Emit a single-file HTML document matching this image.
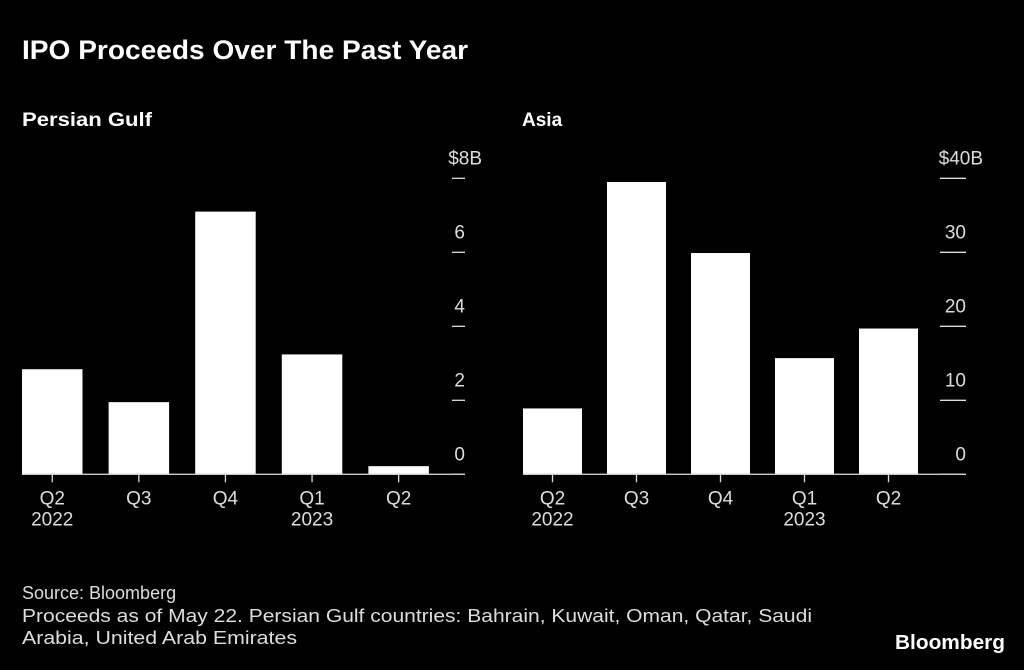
<!DOCTYPE html>
<html><head><meta charset="utf-8"><style>
body{margin:0;background:#000;width:1024px;height:670px;overflow:hidden;font-family:"Liberation Sans",sans-serif;color:#fff}
svg{position:absolute;left:0;top:0}
</style></head><body>
<svg width="1024" height="670">
<text x="22" y="59" font-size="27" font-weight="bold" fill="#fff" textLength="446" lengthAdjust="spacingAndGlyphs">IPO Proceeds Over The Past Year</text>
<text x="22" y="126" font-size="19" font-weight="bold" fill="#fff" textLength="130" lengthAdjust="spacingAndGlyphs">Persian Gulf</text>
<text x="522" y="126" font-size="19" font-weight="bold" fill="#fff">Asia</text>
<g id="left"></g>
<g id="right"></g>
<text x="22" y="599" font-size="18" fill="#ddd">Source: Bloomberg</text>
<text x="22" y="622" font-size="18" fill="#ddd" textLength="790" lengthAdjust="spacingAndGlyphs">Proceeds as of May 22. Persian Gulf countries: Bahrain, Kuwait, Oman, Qatar, Saudi</text>
<text x="22" y="644" font-size="18" fill="#ddd" textLength="275" lengthAdjust="spacingAndGlyphs">Arabia, United Arab Emirates</text>
<text x="1005" y="649" font-size="20" font-weight="bold" fill="#fff" text-anchor="end" textLength="110" lengthAdjust="spacingAndGlyphs">Bloomberg</text>
</svg>
<script>
const quarters=["Q2","Q3","Q4","Q1","Q2"];
const years=["2022","","","2023",""];
const gulfValues=[2.84,1.95,7.1,3.24,0.22];
const asiaValues=[8.9,39.5,29.9,15.7,19.7];
const gulfTicks=[0,2,4,6,8];
const gulfTickLabels=["0","2","4","6","$8B"];
const asiaTicks=[0,10,20,30,40];
const asiaTickLabels=["0","10","20","30","$40B"];
const NS="http://www.w3.org/2000/svg";
function mk(p,t,a){const e=document.createElementNS(NS,t);for(const k in a)e.setAttribute(k,a[k]);p.appendChild(e);return e;}
function draw(gid,vals,ticks,labels,max,x0,step,bw,axisEnd,tickX0,tickX1,name){
 const g=document.getElementById(gid);
 const base=474.3,top=178.3;
 const y=v=>base-(v/max)*(base-top);
 ticks.forEach((t,i)=>{
  const l=mk(g,"line",{x1:tickX0,x2:tickX1,y1:y(t),y2:y(t),stroke:"#ddd","stroke-width":1.3});
  
  
  const tx=mk(g,"text",{x:labels[i].startsWith("$")?tickX1+17:tickX1,y:y(t)-14,"font-size":19,fill:"#ddd","text-anchor":"end"});
  tx.textContent=labels[i];
  
  
 });
 vals.forEach((v,i)=>{
  const x=x0+i*step;
  const r=mk(g,"rect",{x:x,y:y(v),width:bw,height:base-y(v),fill:"#fff"});
  
  
  const cx=x+bw/2;
  const tk=mk(g,"line",{x1:cx,x2:cx,y1:base,y2:base+8,stroke:"#ddd","stroke-width":1.3});
  
  
  const q=mk(g,"text",{x:cx,y:base+30,"font-size":19,fill:"#ddd","text-anchor":"middle"});
  q.textContent=quarters[i];
  
  
  if(years[i]){const yr=mk(g,"text",{x:cx,y:base+51,"font-size":19,fill:"#ddd","text-anchor":"middle"});yr.textContent=years[i];
  
  }
 });
 const ax=mk(g,"line",{x1:x0,x2:axisEnd,y1:base,y2:base,stroke:"#ccc","stroke-width":1.3});
 
 
}
draw("left",gulfValues,gulfTicks,gulfTickLabels,8,22,86.6,60.5,464,452,465,"gulf");
draw("right",asiaValues,asiaTicks,asiaTickLabels,40,523,84,59,965,940,966,"asia");
</script>
</body></html>
